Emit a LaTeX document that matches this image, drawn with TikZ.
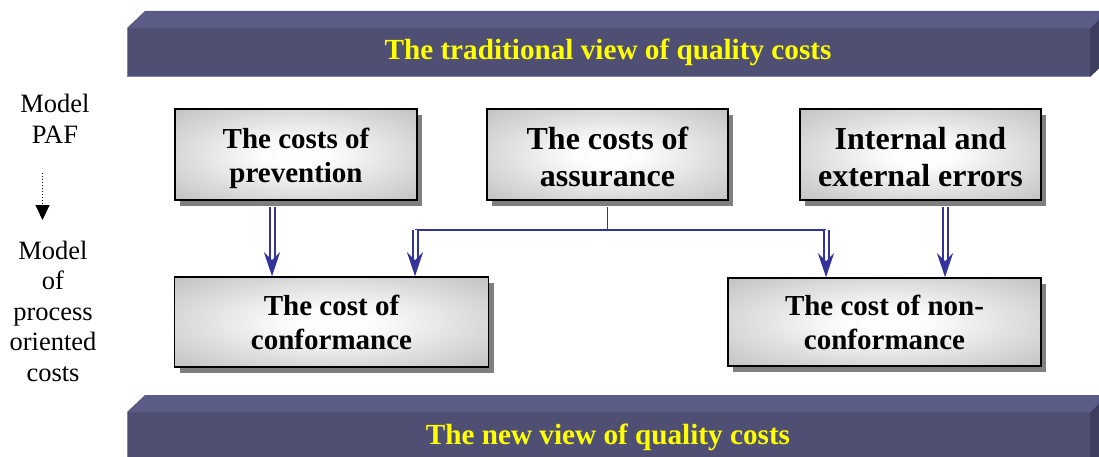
\documentclass[tikz,border=0pt]{standalone}
\usepackage{fontspec}
\setmainfont{Liberation Serif}
\usetikzlibrary{arrows.meta,shadows,calc}

\definecolor{barfront}{HTML}{4F4F73}
\definecolor{bartop}{HTML}{5B5B88}
\definecolor{barside}{HTML}{3E3E5E}
\definecolor{baredge}{HTML}{8484A8}
\definecolor{linkblue}{HTML}{333399}
\definecolor{boxedge}{HTML}{BDBDBD}
\definecolor{shadowgray}{HTML}{7F7F7F}
\definecolor{titleyellow}{HTML}{FFFF00}

\pgfdeclareradialshading{boxglow}{\pgfpoint{0bp}{0bp}}{%
  color(0bp)=(white); color(7bp)=(white!96!boxedge);
  color(38bp)=(boxedge); color(72bp)=(boxedge)}

% invisible strut that sets the height of a first text line
\newcommand\firstline[1]{\rule{0pt}{#1}}

\begin{document}
\begin{tikzpicture}[x=1pt,y=-1pt,
  costbox/.style={draw=black, line width=1.5pt, shading=boxglow,
    drop shadow={shadow xshift=5pt, shadow yshift=-6pt, fill=shadowgray, opacity=1},
    align=center, inner sep=0pt},
  bartitle/.style={text=titleyellow, font=\bfseries\fontsize{29.2}{34}\selectfont},
  sidetext/.style={align=center, inner sep=0pt, font=\fontsize{26.5}{30.5}\selectfont},
  link/.style={draw=linkblue, line width=1.8pt},
  dbl/.style={draw=linkblue, line width=2pt, double=white, double distance=3pt,
    -{Stealth[length=24pt, width=16pt, inset=8pt]}},
  flowarrow/.style={black, line width=1pt, dotted,
    -{Triangle[length=15pt, width=14pt]}}]

\useasboundingbox (0,0) rectangle (1099,457);
\clip (0,0) rectangle (1099,457);

% upper bar
\fill[bartop]  (127,28) -- (145,11) -- (1108,11) -- (1090,28) -- cycle;
\fill[barside] (1090,28) -- (1108,11) -- (1108,60) -- (1090,77) -- cycle;
\fill[barfront] (127,28) rectangle (1090,77);
\draw[baredge, line width=1pt] (127,28) -- (127,77) -- (1090,77);
\node[bartitle] (oldview) at (608,52) {The traditional view of quality costs};

% lower bar
\fill[bartop]  (127,412) -- (145,395) -- (1108,395) -- (1090,412) -- cycle;
\fill[barside] (1090,412) -- (1108,395) -- (1108,470) -- (1090,470) -- cycle;
\fill[barfront] (127,412) rectangle (1090,470);
\draw[baredge, line width=1pt] (127,412) -- (127,470);
\node[bartitle] (newview) at (608,437) {The new view of quality costs};

% cost categories
\node[costbox, minimum width=242pt, minimum height=91pt,
  font=\bfseries\fontsize{29}{34}\selectfont] (p) at (296,154.5)
  {\firstline{27.5pt}The costs of\\prevention};
\node[costbox, minimum width=241pt, minimum height=91pt,
  font=\bfseries\fontsize{32}{37}\selectfont] (a) at (607.5,154.5)
  {\firstline{28pt}The costs of\\assurance};
\node[costbox, minimum width=241pt, minimum height=91pt,
  font=\bfseries\fontsize{32}{37}\selectfont] (e) at (920.5,154.5)
  {\firstline{28pt}Internal and\\external errors};
\node[costbox, minimum width=314pt, minimum height=90pt,
  font=\bfseries\fontsize{29}{34}\selectfont] (c) at (331.5,322)
  {The cost of\\conformance};
\node[costbox, minimum width=313pt, minimum height=88pt,
  font=\bfseries\fontsize{29}{34}\selectfont] (n) at (884.5,322)
  {The cost of non-\\conformance};

% models on the left
\node[sidetext] (paf) at (55,119) {Model\\PAF};
\node[sidetext] (proc) at (53,311) {Model\\of\\process\\oriented\\costs};
\coordinate (ds) at (42.5,173);
\coordinate (de) at (42.5,220);
\draw[flowarrow] (ds) -- (de);

% connectors
\coordinate (j)  at ($(a.south)+(0,29)$);
\coordinate (cl) at ($(c.north)+(83.5,0)$);
\coordinate (nl) at ($(n.north)+(-58.5,0)$);
\coordinate (pl) at ($(p.south)+(-24,6)$);
\coordinate (el) at ($(e.south)+(24.5,6)$);

\draw[link] ([yshift=-6pt]a.south) -- (j);
\draw[link] (j -| cl) -- (j -| nl);
\draw[dbl] (j -| cl) -- (cl);
\draw[dbl] (j -| nl) -- (nl);
\draw[dbl] (pl) -- (pl |- c.north);
\draw[dbl] (el) -- (el |- n.north);

\end{tikzpicture}
\end{document}
